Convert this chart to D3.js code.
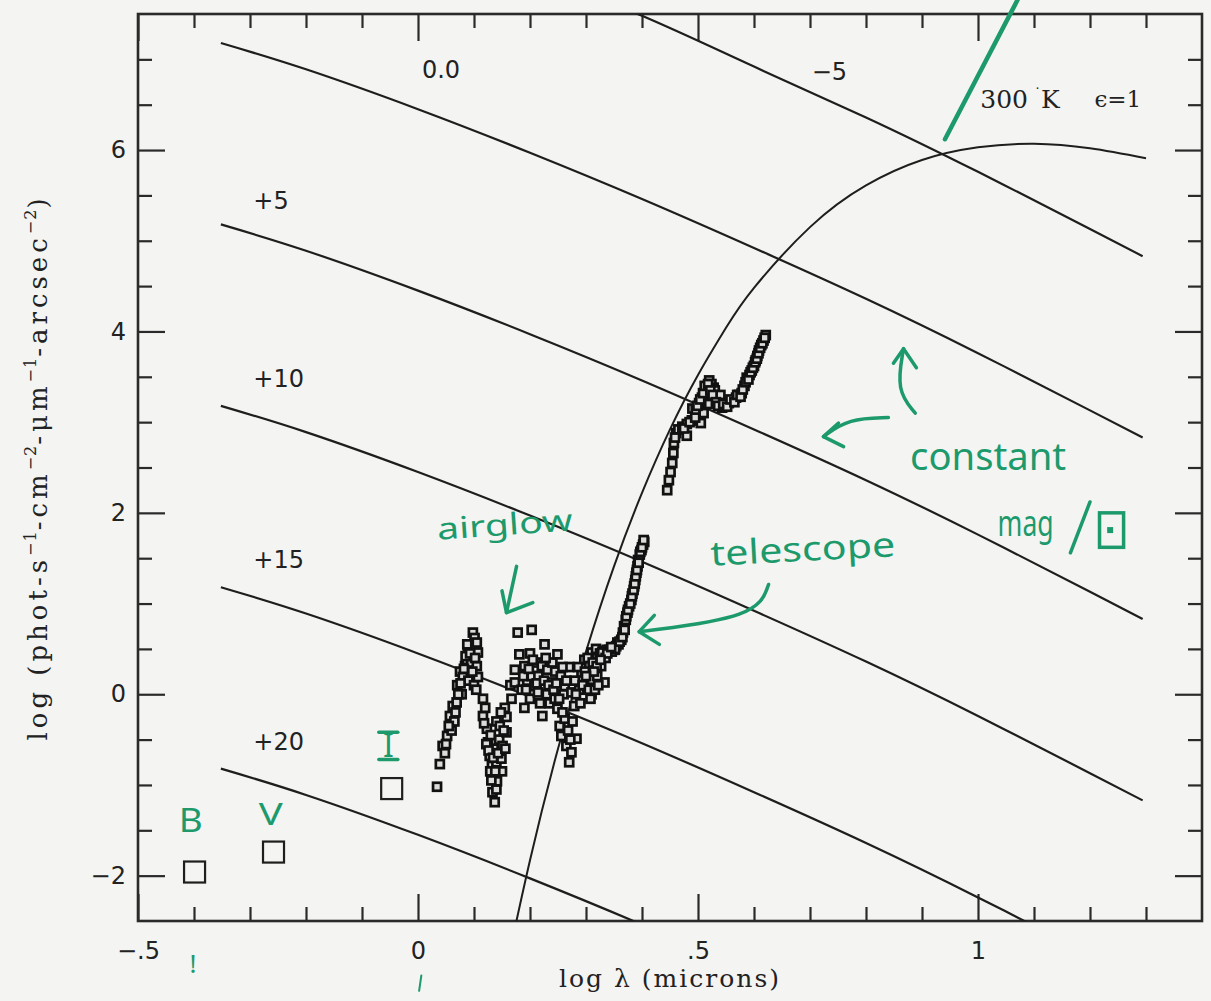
<!DOCTYPE html>
<html>
<head>
<meta charset="utf-8">
<script src="https://cdn.jsdelivr.net/npm/d3@7"></script>
<style>
  body { margin: 0; background: #f4f4f2; }
  svg { display: block; }
  .tick text { font-family: "DejaVu Sans", sans-serif; font-size: 24px; fill: #222; }
  .tick line { stroke: #2a2a2a; stroke-width: 2.2; }
  .hand { font-family: "Noto Sans", sans-serif; fill: #1d9a6c; }
</style>
</head>
<body>
<svg id="chart" width="1211" height="1001"></svg>
<script>
// tick values / labels
var xMajor = [-0.5, 0, 0.5, 1];
var xTickLabels = ["\u2212.5", "0", ".5", "1"];
var xMinor = [-0.4, -0.3, -0.2, -0.1, 0.1, 0.2, 0.3, 0.4, 0.6, 0.7, 0.8, 0.9, 1.1, 1.2, 1.3];
var yMajor = [-2, 0, 2, 4, 6];
var yTickLabels = ["\u22122", "0", "2", "4", "6"];
var yMinor = [-1.5, -1, -0.5, 0.5, 1, 1.5, 2.5, 3, 3.5, 4.5, 5, 5.5, 6.5, 7];

// constant surface brightness lines (mag/arcsec^2)
var magX = [-0.352, -0.2, 0, 0.2, 0.4, 0.6, 0.8, 1.0, 1.2, 1.294];
var magLabels = ["\u22125", "0.0", "+5", "+10", "+15", "+20"];
var magM5 = [9.18, 8.89, 8.45, 7.97, 7.48, 6.92, 6.36, 5.76, 5.13, 4.83];
var mag0 = [7.18, 6.89, 6.45, 5.97, 5.46, 4.92, 4.36, 3.76, 3.13, 2.83];
var mag5 = [5.18, 4.89, 4.45, 3.97, 3.46, 2.92, 2.36, 1.76, 1.13, 0.83];
var mag10 = [3.18, 2.89, 2.45, 1.97, 1.46, 0.92, 0.36, -0.24, -0.87, -1.17];
var mag15 = [1.18, 0.89, 0.45, -0.03, -0.54, -1.08, -1.64, -2.24, -2.87, -3.17];
var mag20 = [-0.82, -1.11, -1.55, -2.03, -2.54, -3.08, -3.64, -4.24, -4.87, -5.17];

// 300 K blackbody, eps = 1
var bbX = [0.15, 0.2, 0.25, 0.3, 0.35, 0.4, 0.45, 0.5, 0.55, 0.6, 0.7, 0.8, 0.9, 1.0, 1.1, 1.2, 1.3];
var bbY = [-3.24, -1.83, -0.60, 0.47, 1.41, 2.22, 2.92, 3.52, 4.04, 4.48, 5.15, 5.61, 5.89, 6.03, 6.07, 6.02, 5.91];

// measured sky background [log lambda, log photons]
var airglow = [
  [0.034,-1.02],[0.039,-0.77],[0.044,-0.57],[0.048,-0.65],[0.052,-0.46],[0.057,-0.24],[0.060,-0.40],
  [0.062,-0.13],[0.065,-0.30],[0.069,-0.09],[0.070,0.10],[0.075,0.25],[0.078,0.00],[0.080,0.19],
  [0.084,0.31],[0.087,0.38],[0.089,0.46],[0.090,0.15],[0.095,0.35],[0.096,0.53],[0.098,0.68],
  [0.100,0.10],[0.101,0.62],[0.105,0.57],[0.107,0.46],[0.105,0.31],[0.107,0.19],[0.116,-0.05],
  [0.116,-0.24],[0.120,-0.15],[0.123,-0.38],[0.125,-0.53],[0.128,-0.68],[0.130,-0.45],[0.132,-0.79],
  [0.135,-0.60],[0.135,-0.90],[0.133,-1.08],[0.137,-1.19],[0.140,-1.05],[0.140,-0.30],[0.141,-0.96],
  [0.140,-0.75],[0.145,-0.50],[0.149,-0.71],[0.150,-0.85],[0.151,-0.57],[0.155,-0.15],[0.158,-0.42],
  [0.158,-0.25],[0.165,0.10],[0.167,-0.05],[0.173,0.13],[0.173,0.27],[0.178,0.68],[0.181,0.44],
  [0.185,0.05],[0.190,0.31],[0.190,-0.15],[0.195,0.15],[0.200,-0.05],[0.200,0.45],[0.203,0.71],
  [0.203,0.20],[0.208,0.09],[0.210,0.35],[0.214,0.02],[0.215,0.20],[0.221,0.31],[0.222,-0.24],
  [0.226,0.55],[0.230,0.00],[0.231,0.27],[0.235,-0.10],[0.238,0.13],[0.240,0.35],[0.244,-0.05],
  [0.245,0.25],[0.249,0.44],[0.249,-0.16],[0.253,-0.35],[0.255,0.20],[0.256,-0.46],[0.260,0.00],
  [0.262,-0.27],[0.262,0.09],[0.265,-0.57],[0.270,-0.75],[0.270,0.30],[0.274,-0.64],[0.274,0.02],
  [0.279,-0.13],[0.280,0.15],[0.283,-0.49],[0.288,0.05],[0.290,-0.10],[0.292,0.24],[0.297,0.38],
  [0.300,0.10],[0.306,0.31],[0.310,0.00],[0.310,0.46],[0.315,0.16],[0.320,0.40],[0.327,0.31],
  [0.333,0.13],[0.338,0.49],[0.351,0.49],[0.356,0.57],
  [0.072,0.00],[0.076,0.12],[0.082,0.28],[0.085,0.42],[0.088,0.55],[0.093,0.45],[0.097,0.25],
  [0.102,0.40],[0.104,0.05],[0.055,-0.35],[0.050,-0.55],[0.067,-0.20],
  [0.118,-0.32],[0.122,-0.55],[0.126,-0.62],[0.129,-0.85],[0.131,-0.95],[0.134,-0.70],[0.138,-0.85],
  [0.143,-0.65],[0.146,-0.35],[0.153,-0.40],[0.156,-0.60],[0.148,-0.20],
  [0.188,0.20],[0.193,0.05],[0.198,0.28],[0.205,0.38],[0.212,0.12],[0.218,-0.10],[0.225,0.15],
  [0.228,0.40],[0.233,0.10],[0.242,0.05],[0.247,0.12],[0.252,-0.05],[0.258,-0.20],[0.258,0.30],
  [0.265,0.15],[0.268,-0.40],[0.272,-0.50],[0.276,-0.30],[0.282,0.00],[0.286,0.30],[0.294,0.10],
  [0.298,0.25],[0.303,0.40],[0.312,0.35],[0.318,0.50],[0.325,0.45],[0.330,0.48]
];
var telescopeRise = [
  [0.305,0.05],[0.311,0.16],[0.319,0.31],[0.320,0.20],[0.329,0.46],[0.335,0.40],[0.342,0.49],
  [0.346,0.47],[0.354,0.53],[0.358,0.55],[0.363,0.60],[0.366,0.68],[0.368,0.75],[0.371,0.82],
  [0.374,0.90],[0.377,0.97],[0.381,1.04],[0.383,1.11],[0.386,1.19],[0.388,1.26],[0.390,1.34],
  [0.392,1.41],[0.393,1.48],[0.396,1.54],[0.399,1.59],[0.402,1.65],[0.404,1.68],
  [0.352,0.50],[0.360,0.58],[0.365,0.63],[0.369,0.71],[0.372,0.86],[0.375,0.93],[0.379,1.00],
  [0.382,1.08],[0.385,1.15],[0.387,1.22],[0.389,1.30],[0.391,1.37],[0.394,1.45],[0.397,1.57],
  [0.400,1.62],[0.403,1.70],[0.338,0.45],[0.345,0.52],[0.326,0.38],[0.314,0.25],[0.316,0.05],
  [0.322,0.10],[0.308,-0.05],[0.300,0.20]
];
var thermalIR = [
  [0.445,2.25],[0.448,2.36],[0.451,2.45],[0.454,2.55],[0.457,2.77],[0.461,2.88],[0.465,2.92],
  [0.472,2.95],[0.480,2.85],[0.480,2.98],[0.489,3.02],[0.490,3.15],[0.496,3.13],[0.502,3.21],
  [0.502,3.02],[0.505,2.99],[0.507,3.27],[0.510,3.10],[0.514,3.38],[0.517,3.30],[0.520,3.46],
  [0.520,3.20],[0.524,3.42],[0.528,3.38],[0.530,3.35],[0.534,3.27],[0.538,3.22],[0.540,3.30],
  [0.543,3.16],[0.549,3.18],[0.555,3.21],[0.562,3.24],[0.568,3.27],[0.573,3.30],[0.578,3.32],
  [0.583,3.40],[0.587,3.49],[0.592,3.52],[0.596,3.57],[0.600,3.62],[0.603,3.68],[0.606,3.73],
  [0.609,3.79],[0.613,3.85],[0.617,3.90],[0.621,3.96],
  [0.475,2.93],[0.485,3.00],[0.495,3.05],[0.499,3.18],[0.504,3.25],[0.509,3.32],[0.512,3.40],
  [0.518,3.42],[0.522,3.35],[0.526,3.30],[0.532,3.22],[0.536,3.18],[0.545,3.20],[0.552,3.17],
  [0.558,3.25],[0.565,3.22],[0.570,3.30],[0.576,3.28],[0.580,3.36],[0.585,3.44],[0.590,3.47],
  [0.594,3.55],[0.598,3.60],[0.602,3.66],[0.605,3.70],[0.608,3.76],[0.611,3.82],[0.615,3.87],
  [0.619,3.93],[0.459,2.83],[0.456,2.66]
];

// broad band sky points
var bandNames = ["B", "V", "I"];
var bandX = [-0.399, -0.258, -0.047];
var bandY = [-1.96, -1.74, -1.04];

var svgWidth = 1211;
var svgHeight = 1001;
var margin = { top: 14, right: 9, bottom: 80, left: 138 };
var width = svgWidth - margin.left - margin.right;
var height = svgHeight - margin.top - margin.bottom;

var svg = d3.select("#chart");
var chartGroup = svg.append("g")
  .attr("transform", `translate(${margin.left}, ${margin.top})`);

var x = d3.scaleLinear().domain([-0.5, 1.4]).range([0, width]);
var y = d3.scaleLinear().domain([-2.5, 7.5]).range([height, 0]);

chartGroup.append("clipPath").attr("id", "plotclip")
  .append("rect").attr("width", width).attr("height", height);

// axes, ticks pointing inward on all four sides
function noDomain(g) { g.select(".domain").remove(); }

chartGroup.append("g")
  .attr("transform", `translate(0, ${height})`)
  .call(d3.axisBottom(x).tickValues(xMajor).tickFormat((d, i) => xTickLabels[i])
    .tickSizeInner(-27).tickSizeOuter(0).tickPadding(21))
  .call(noDomain);
chartGroup.append("g")
  .attr("transform", `translate(0, ${height})`)
  .call(d3.axisBottom(x).tickValues(xMinor).tickFormat("").tickSizeInner(-14).tickSizeOuter(0))
  .call(noDomain);
chartGroup.append("g")
  .call(d3.axisTop(x).tickValues(xMajor).tickFormat("").tickSizeInner(-27).tickSizeOuter(0))
  .call(noDomain);
chartGroup.append("g")
  .call(d3.axisTop(x).tickValues(xMinor).tickFormat("").tickSizeInner(-14).tickSizeOuter(0))
  .call(noDomain);

chartGroup.append("g")
  .call(d3.axisLeft(y).tickValues(yMajor).tickFormat((d, i) => yTickLabels[i])
    .tickSizeInner(-27).tickSizeOuter(0).tickPadding(12))
  .call(noDomain);
chartGroup.append("g")
  .call(d3.axisLeft(y).tickValues(yMinor).tickFormat("").tickSizeInner(-14).tickSizeOuter(0))
  .call(noDomain);
chartGroup.append("g")
  .attr("transform", `translate(${width}, 0)`)
  .call(d3.axisRight(y).tickValues(yMajor).tickFormat("").tickSizeInner(-27).tickSizeOuter(0))
  .call(noDomain);
chartGroup.append("g")
  .attr("transform", `translate(${width}, 0)`)
  .call(d3.axisRight(y).tickValues(yMinor).tickFormat("").tickSizeInner(-14).tickSizeOuter(0))
  .call(noDomain);

// frame
chartGroup.append("rect")
  .attr("width", width).attr("height", height)
  .attr("fill", "none").attr("stroke", "#2a2a2a").attr("stroke-width", 2.6);

// constant mag lines
var magSeries = [magM5, mag0, mag5, mag10, mag15, mag20];
var magLine = d3.line()
  .x((d, i) => x(magX[i]))
  .y(d => y(d))
  .curve(d3.curveNatural);

var plot = chartGroup.append("g").attr("clip-path", "url(#plotclip)");

plot.selectAll(".magline")
  .data(magSeries)
  .enter()
  .append("path")
  .attr("class", "magline")
  .attr("d", d => magLine(d))
  .attr("fill", "none")
  .attr("stroke", "#1e1e1e")
  .attr("stroke-width", 2.2);

// blackbody curve
var bbLine = d3.line()
  .x((d, i) => x(bbX[i]))
  .y(d => y(d))
  .curve(d3.curveNatural);
plot.append("path")
  .attr("d", bbLine(bbY))
  .attr("fill", "none")
  .attr("stroke", "#1e1e1e")
  .attr("stroke-width", 2);

// sky spectrum points, open squares
var sky = airglow.concat(telescopeRise, thermalIR);
var sq = 8;
plot.selectAll(".sky")
  .data(sky)
  .enter()
  .append("rect")
  .attr("class", "sky")
  .attr("x", d => x(d[0]) - sq / 2)
  .attr("y", d => y(d[1]) - sq / 2)
  .attr("width", sq)
  .attr("height", sq)
  .attr("fill", "#dcdcda")
  .attr("stroke", "#111")
  .attr("stroke-width", 2.7);

// B V I squares
var big = 21;
plot.selectAll(".band")
  .data(bandX)
  .enter()
  .append("rect")
  .attr("class", "band")
  .attr("x", (d, i) => x(d) - big / 2)
  .attr("y", (d, i) => y(bandY[i]) - big / 2)
  .attr("width", big)
  .attr("height", big)
  .attr("fill", "none")
  .attr("stroke", "#1e1e1e")
  .attr("stroke-width", 2.2);

// line labels
var magLabelX = [0.703, 0.007, -0.294, -0.294, -0.294, -0.294];
var magLabelY = [6.87, 6.89, 5.44, 3.48, 1.48, -0.52];
chartGroup.selectAll(".maglabel")
  .data(magLabels)
  .enter()
  .append("text")
  .attr("class", "maglabel")
  .attr("x", (d, i) => x(magLabelX[i]))
  .attr("y", (d, i) => y(magLabelY[i]))
  .attr("dy", "0.35em")
  .style("font-family", "'DejaVu Sans', sans-serif")
  .style("font-size", "24px")
  .style("fill", "#222")
  .text(d => d);

var bbLabel = chartGroup.append("text")
  .attr("x", x(1.004))
  .attr("y", y(6.56))
  .attr("dy", "0.35em")
  .style("font-family", "'DejaVu Serif', serif")
  .style("font-size", "25px")
  .style("fill", "#222");
bbLabel.append("tspan").text("300");
bbLabel.append("tspan").attr("dx", 6).attr("dy", -9).style("font-size", "14px").text("\u02D9");
bbLabel.append("tspan").attr("dy", 9).text("K");
chartGroup.append("text")
  .attr("x", x(1.208))
  .attr("y", y(6.56))
  .attr("dy", "0.35em")
  .style("font-family", "'DejaVu Serif', serif")
  .style("font-size", "23px")
  .style("fill", "#222")
  .text("\u03F5=1");

// axis titles
svg.append("text")
  .attr("x", margin.left + width / 2)
  .attr("y", 987)
  .attr("text-anchor", "middle")
  .style("font-family", "'DejaVu Serif', serif")
  .style("font-size", "25px")
  .style("letter-spacing", "2px")
  .style("fill", "#222")
  .text("log \u03BB (microns)");

var yTitle = svg.append("text")
  .attr("transform", `translate(47, ${margin.top + height / 2}) rotate(-90)`)
  .attr("text-anchor", "middle")
  .style("font-family", "'DejaVu Serif', serif")
  .style("font-size", "26px")
  .style("letter-spacing", "4px")
  .style("fill", "#222");
// main text pieces and the superscript that follows each
var yTitleMain = ["log (phot-s", "-cm", "-\u03BCm", "-arcsec", ")"];
var yTitleSup = ["\u22121", "\u22122", "\u22121", "\u22122", null];
yTitleMain.forEach(function(part, i) {
  yTitle.append("tspan").attr("dy", i > 0 ? 11 : 0).text(part);
  if (yTitleSup[i]) {
    yTitle.append("tspan").attr("dy", -11)
      .style("font-size", "16px").style("letter-spacing", "1px")
      .text(yTitleSup[i]);
  }
});

// hand written notes (green)
var green = "#1d9a6c";
var notes = chartGroup.append("g");

function handText(label, lx, ly, size, len, rot) {
  var t = notes.append("text")
    .attr("class", "hand")
    .attr("transform", `translate(${x(lx)}, ${y(ly)}) rotate(${rot || 0})`)
    .attr("text-anchor", "middle")
    .attr("dy", "0.35em")
    .style("font-size", size + "px")
    .text(label);
  if (len) t.attr("textLength", len).attr("lengthAdjust", "spacingAndGlyphs");
  return t;
}
handText("B", -0.406, -1.40, 32, 24);
handText("V", -0.263, -1.33, 30, 24);
handText("I", -0.053, -0.57, 32, 0);
handText("!", -0.402, -2.97, 26, 0);
handText("airglow", 0.155, 1.87, 30, 136, -4);
handText("telescope", 0.687, 1.60, 34, 185, -3);
handText("constant", 1.018, 2.62, 38, 156, 0);
handText("mag", 1.085, 1.88, 36, 56, 0);

function stroke(pts, curved, w) {
  var gen = d3.line().x(d => x(d[0])).y(d => y(d[1]));
  if (curved) gen.curve(d3.curveBasis);
  notes.append("path")
    .attr("d", gen(pts))
    .attr("fill", "none")
    .attr("stroke", green)
    .attr("stroke-width", w || 3.5)
    .attr("stroke-linecap", "round")
    .attr("stroke-linejoin", "round");
}
// airglow arrow
stroke([[0.176, 1.41], [0.158, 0.90]]);
stroke([[0.150, 1.14], [0.158, 0.90], [0.205, 1.01]]);
// telescope arrow
stroke([[0.626, 1.21], [0.605, 0.85], [0.395, 0.69]], true);
stroke([[0.422, 0.87], [0.395, 0.69], [0.431, 0.55]]);
// constant mag arrows
stroke([[0.840, 3.05], [0.769, 3.04], [0.724, 2.84]], true);
stroke([[0.751, 2.99], [0.724, 2.84], [0.760, 2.73]]);
stroke([[0.888, 3.10], [0.854, 3.35], [0.867, 3.81]], true);
stroke([[0.849, 3.65], [0.867, 3.81], [0.890, 3.60]]);
// slash and square after "mag"
stroke([[1.200, 2.12], [1.165, 1.56]]);
notes.append("rect")
  .attr("x", x(1.217)).attr("y", y(2.00))
  .attr("width", x(1.260) - x(1.217)).attr("height", y(1.62) - y(2.00))
  .attr("fill", "none").attr("stroke", green).attr("stroke-width", 3.5);
notes.append("rect")
  .attr("x", x(1.236) - 3).attr("y", y(1.81) - 3)
  .attr("width", 6).attr("height", 6)
  .attr("fill", green);
// I bar serifs
stroke([[-0.070, -0.42], [-0.036, -0.42]]);
stroke([[-0.070, -0.72], [-0.036, -0.72]]);
// small mark under the x axis
stroke([[0.006, -3.10], [0.002, -3.27]], false, 2);
// line toward top right
stroke([[0.941, 6.12], [1.071, 7.66]], false, 4.5);
</script>
</body>
</html>
